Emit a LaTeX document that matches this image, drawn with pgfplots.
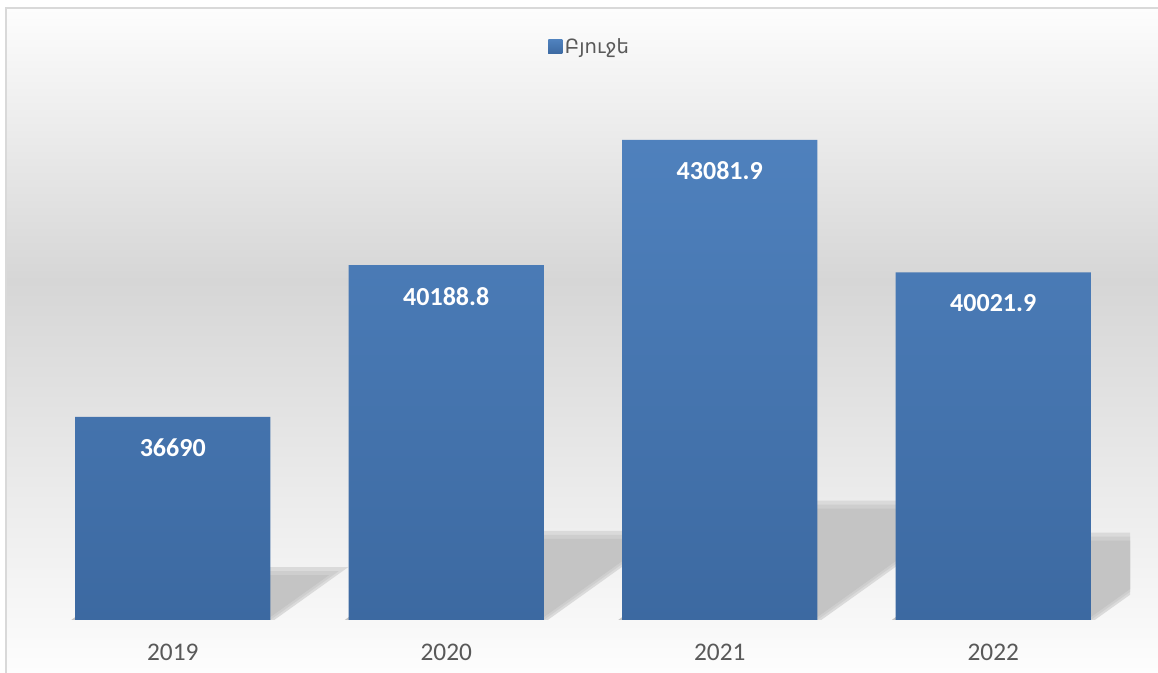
\documentclass[border=0pt]{standalone}
\usepackage{pgfplots}
\pgfplotsset{compat=1.18}
\usepackage{pgfplotstable}
\usepackage{fontspec}
\setmainfont{Carlito}
\newfontfamily\armfont{DejaVu Sans}
\definecolor{bartop}{HTML}{4F81BD}
\definecolor{barbot}{HTML}{3C69A1}
\definecolor{shadowA}{HTML}{DADADA}
\definecolor{shadowB}{HTML}{CECECE}
\definecolor{shadowC}{HTML}{C4C4C4}
\definecolor{bggray}{HTML}{D6D6D6}
\definecolor{bgwhite}{HTML}{FDFDFD}
\definecolor{txtgray}{HTML}{595959}
\definecolor{framec}{HTML}{D9D9D9}
\pgfdeclareverticalshading{bgshade}{100bp}{color(0bp)=(bgwhite); color(25bp)=(bgwhite); color(54.5bp)=(bggray); color(75bp)=(bgwhite); color(100bp)=(bgwhite)}

\pgfplotstableread{
x year value
0 2019 36690
1 2020 40188.8
2 2021 43081.9
3 2022 40021.9
}\budget

\begin{document}
\begin{tikzpicture}
\shade[shading=bgshade] (-22.5pt,-39.75pt) rectangle (841.5pt,459pt);
\draw[framec, line width=1.5pt] (-22.3pt,-39.75pt) -- (-22.3pt,459pt) -- (841.5pt,459pt);
\begin{axis}[
  at={(0,0)}, anchor=south west,
  scale only axis, width=820.5pt, height=390pt,
  xmin=-0.5, xmax=3.5, ymin=0, ymax=12000,
  axis line style={draw=none},
  major tick length=0pt,
  ytick=\empty,
  xtick={0,1,2,3},
  xticklabels={2019,2020,2021,2022},
  xticklabel style={font=\fontsize{19}{23}\selectfont, text=txtgray, anchor=center, yshift=-24pt},
  legend style={at={(0.5064,1.102)}, anchor=center, draw=none, fill=none,
    font=\fontsize{14.7}{17}\selectfont, text=txtgray},
  legend image code/.code={\fill[bartop] (-5.25pt,-5.25pt) rectangle (5.25pt,5.25pt);},
]
% shadows (three soft layers each)
\addplot[fill=shadowA, draw=none, forget plot] coordinates {(-0.3419,0) (0.3711,0) (0.6411,1218) (-0.0719,1218)} -- cycle;
\addplot[fill=shadowB, draw=none, forget plot] coordinates {(-0.3565,0) (0.3565,0) (0.6065,1126) (-0.1065,1126)} -- cycle;
\addplot[fill=shadowC, draw=none, forget plot] coordinates {(-0.3711,0) (0.3419,0) (0.5712,1034) (-0.1418,1034)} -- cycle;
\addplot[fill=shadowA, draw=none, forget plot] coordinates {(0.6581,0) (1.3711,0) (1.8271,2057) (1.1141,2057)} -- cycle;
\addplot[fill=shadowB, draw=none, forget plot] coordinates {(0.6435,0) (1.3565,0) (1.7925,1965) (1.0795,1965)} -- cycle;
\addplot[fill=shadowC, draw=none, forget plot] coordinates {(0.6289,0) (1.3419,0) (1.7575,1873) (1.0445,1873)} -- cycle;
\addplot[fill=shadowA, draw=none, forget plot] coordinates {(1.6581,0) (2.3711,0) (2.9811,2752) (2.2681,2752)} -- cycle;
\addplot[fill=shadowB, draw=none, forget plot] coordinates {(1.6435,0) (2.3565,0) (2.9465,2660) (2.2335,2660)} -- cycle;
\addplot[fill=shadowC, draw=none, forget plot] coordinates {(1.6289,0) (2.3419,0) (2.9116,2568) (2.1986,2568)} -- cycle;
\addplot[fill=shadowA, draw=none, forget plot] coordinates {(2.6581,0) (3.3711,0) (3.8185,2017) (3.1055,2017)} -- cycle;
\addplot[fill=shadowB, draw=none, forget plot] coordinates {(2.6435,0) (3.3565,0) (3.7835,1925) (3.0705,1925)} -- cycle;
\addplot[fill=shadowC, draw=none, forget plot] coordinates {(2.6289,0) (3.3419,0) (3.7483,1833) (3.0353,1833)} -- cycle;
% bars
\addplot[ybar, bar width=0.713, draw=none, top color=bartop, bottom color=barbot,
  nodes near coords, point meta=explicit symbolic,
  every node near coord/.append style={font=\bfseries\fontsize{19.5}{23}\selectfont, text=white, anchor=center, yshift=-23.25pt}]
  table[x=x, y expr=\thisrow{value}-32000, meta=value] {\budget};
\addlegendentry{\armfont Բյուջե}
\end{axis}
\pgfresetboundingbox
\path[use as bounding box] (-27pt,-39.75pt) rectangle (841.5pt,465pt);
\end{tikzpicture}
\end{document}
